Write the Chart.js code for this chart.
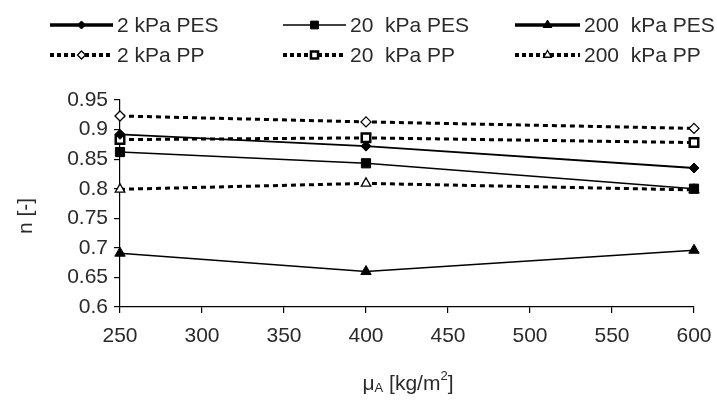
<!DOCTYPE html>
<html>
<head>
<meta charset="utf-8">
<script src="https://cdn.jsdelivr.net/npm/chart.js@4/dist/chart.umd.min.js"></script>
<style>
    html, body { margin: 0; padding: 0; background: #fff; }
    #wrap { width: 717px; height: 403px; }
</style>
</head>
<body>
<div id="wrap"><canvas id="chart" width="717" height="403"></canvas></div>
<script>
// --- data ---
const areaDensity = [250, 400, 600];
const pes2kPa = [0.892, 0.872, 0.835];
const pes20kPa = [0.862, 0.843, 0.800];
const pes200kPa = [0.691, 0.660, 0.696];
const pp2kPa = [0.923, 0.913, 0.902];
const pp20kPa = [0.883, 0.886, 0.878];
const pp200kPa = [0.799, 0.809, 0.798];

const seriesNames = ['2 kPa PES', '20  kPa PES', '200  kPa PES', '2 kPa PP', '20  kPa PP', '200  kPa PP'];
const xTickLabels = ['250', '300', '350', '400', '450', '500', '550', '600'];
const yTickLabels = ['0.6', '0.65', '0.7', '0.75', '0.8', '0.85', '0.9', '0.95'];

const FONT = 'Arial, "Liberation Sans", sans-serif';
const INK = '#2a2a2a';

function toPoints(ys) {
    return ys.map((y, i) => ({ x: areaDensity[i], y: y }));
}

// solid PES lines, dotted PP lines
function pesSet(label, values, shape, radius, width) {
    return {
        label, data: toPoints(values), clip: false,
        borderColor: '#000', borderWidth: width,
        pointStyle: shape, pointRadius: radius, pointHoverRadius: radius,
        pointBackgroundColor: '#000', pointBorderColor: '#000', pointBorderWidth: 1
    };
}
function ppSet(label, values, shape, radius, markerLine) {
    return {
        label, data: toPoints(values), clip: false,
        borderColor: '#000', borderWidth: 3, borderDash: [5, 4],
        pointStyle: shape, pointRadius: radius, pointHoverRadius: radius,
        pointBackgroundColor: '#fff', pointBorderColor: '#000', pointBorderWidth: markerLine
    };
}

const datasets = [
    pesSet(seriesNames[0], pes2kPa, 'rectRot', 5, 1.8),
    pesSet(seriesNames[1], pes20kPa, 'rect', 6.5, 1.5),
    pesSet(seriesNames[2], pes200kPa, 'triangle', 6, 1.5),
    ppSet(seriesNames[3], pp2kPa, 'rectRot', 5, 1.3),
    ppSet(seriesNames[4], pp20kPa, 'rect', 6, 2.5),
    ppSet(seriesNames[5], pp200kPa, 'triangle', 5.5, 1.3),
];

// legend: 3 columns x 2 rows, drawn by hand
const legendCols = [
    { x0: 50, x1: 113, tx: 117 },
    { x0: 283, x1: 346, tx: 350 },
    { x0: 515, x1: 580, tx: 584 },
];
const legendRows = [25, 55];
const legendLineWidth = [3.5, 1.5, 3.5];

function marker(ctx, shape, x, y, r, fill, lw) {
    ctx.save();
    ctx.beginPath();
    if (shape === 'rectRot') {
        ctx.moveTo(x - r, y); ctx.lineTo(x, y - r); ctx.lineTo(x + r, y); ctx.lineTo(x, y + r);
        ctx.closePath();
    } else if (shape === 'rect') {
        const s = r * Math.SQRT1_2;
        ctx.rect(x - s, y - s, 2 * s, 2 * s);
    } else {
        ctx.moveTo(x, y - r); ctx.lineTo(x + 0.866 * r, y + 0.5 * r); ctx.lineTo(x - 0.866 * r, y + 0.5 * r);
        ctx.closePath();
    }
    ctx.fillStyle = fill;
    ctx.fill();
    ctx.lineWidth = lw;
    ctx.strokeStyle = '#000';
    ctx.stroke();
    ctx.restore();
}

const decorations = {
    id: 'decorations',
    afterDraw(chart) {
        const ctx = chart.ctx;
        ctx.save();
        // legend
        for (let c = 0; c < 3; c++) {
            for (let r = 0; r < 2; r++) {
                const ds = chart.data.datasets[c + r * 3];
                const col = legendCols[c];
                const y = legendRows[r];
                ctx.beginPath();
                ctx.strokeStyle = '#000';
                if (r === 0) {
                    ctx.setLineDash([]);
                    ctx.lineWidth = legendLineWidth[c];
                } else {
                    ctx.setLineDash([4, 3]);
                    ctx.lineWidth = 4;
                }
                ctx.moveTo(col.x0, y);
                ctx.lineTo(col.x1, y);
                ctx.stroke();
                ctx.setLineDash([]);
                marker(ctx, ds.pointStyle, (col.x0 + col.x1) / 2, y, ds.pointRadius - 1,
                    ds.pointBackgroundColor, ds.pointBorderWidth);
                ctx.fillStyle = INK;
                ctx.font = '21px ' + FONT;
                ctx.textBaseline = 'middle';
                ctx.textAlign = 'left';
                ctx.fillText(ds.label, col.tx, y + 1);
            }
        }
        // y axis title
        ctx.save();
        ctx.translate(26, 216);
        ctx.rotate(-Math.PI / 2);
        ctx.font = '21px ' + FONT;
        ctx.textAlign = 'center';
        ctx.textBaseline = 'middle';
        ctx.fillStyle = INK;
        ctx.fillText('n [-]', 0, 0);
        ctx.restore();
        // x axis title: mu with subscript A, m with superscript 2
        const parts = [
            { t: 'μ', size: 21, dy: 0 },
            { t: 'A', size: 13, dy: 2 },
            { t: ' [kg/m', size: 21, dy: 0 },
            { t: '2', size: 13, dy: -10 },
            { t: ']', size: 21, dy: 0 },
        ];
        let total = 0;
        parts.forEach(p => { ctx.font = p.size + 'px ' + FONT; p.w = ctx.measureText(p.t).width; total += p.w; });
        let x = 408 - total / 2;
        const base = 390;
        ctx.textAlign = 'left';
        ctx.textBaseline = 'alphabetic';
        ctx.fillStyle = INK;
        parts.forEach(p => {
            ctx.font = p.size + 'px ' + FONT;
            ctx.fillText(p.t, x, base + p.dy);
            x += p.w;
        });
        ctx.restore();
    }
};

new Chart(document.getElementById('chart'), {
    type: 'line',
    data: { datasets },
    options: {
        responsive: false,
        animation: false,
        events: [],
        layout: { padding: { top: 100, right: 23, left: 0, bottom: 0 } },
        plugins: { legend: { display: false }, tooltip: { enabled: false } },
        scales: {
            x: {
                type: 'linear', min: 250, max: 600,
                afterFit: s => { s.height = 96; s.paddingRight = 20; s.paddingLeft = 20; },
                border: { display: true, color: '#000', width: 1.2 },
                grid: { drawOnChartArea: false, drawTicks: true, tickLength: 6, color: '#000', lineWidth: 1.2 },
                ticks: {
                    stepSize: 50, padding: 11, color: INK, font: { family: FONT, size: 21 },
                    maxRotation: 0,
                    callback: v => xTickLabels[Math.round((v - 250) / 50)]
                }
            },
            y: {
                min: 0.6, max: 0.95,
                afterFit: s => { s.width = 120; },
                border: { display: true, color: '#000', width: 1.2 },
                grid: { drawOnChartArea: false, drawTicks: true, tickLength: 6, color: '#000', lineWidth: 1.2 },
                ticks: {
                    stepSize: 0.05, padding: 6, color: INK, font: { family: FONT, size: 21 },
                    callback: v => yTickLabels[Math.round((v - 0.6) / 0.05)]
                }
            }
        }
    },
    plugins: [decorations]
});
</script>
</body>
</html>
